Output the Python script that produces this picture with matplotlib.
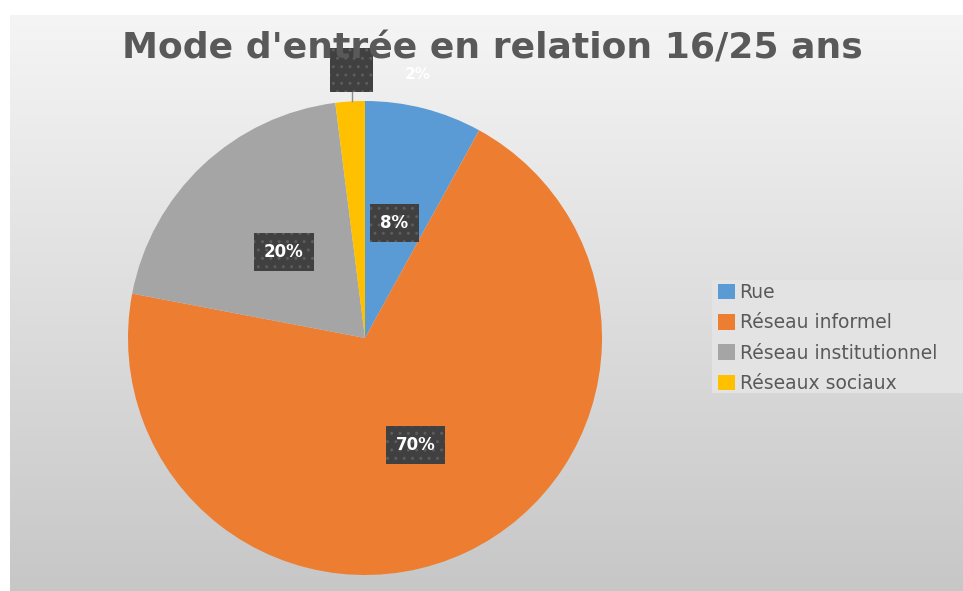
import numpy as np
import matplotlib.pyplot as plt
from matplotlib.patches import Rectangle, Patch

# data
labels = ['Rue', 'Réseau informel', 'Réseau institutionnel', 'Réseaux sociaux']
values = [8, 70, 20, 2]
colors = ['#5B9BD5', '#ED7D31', '#A5A5A5', '#FFC000']
title = "Mode d'entrée en relation 16/25 ans"

W, H = 963, 591
fig = plt.figure(figsize=(W / 100, H / 100), dpi=100)
fig.patch.set_facecolor('white')

# gradient background of the chart area
bg = fig.add_axes([10 / W, 0, (W - 10) / W, (H - 15) / H])
grad = np.linspace(0, 1, 256).reshape(-1, 1)
top, bot = np.array([0.96, 0.96, 0.96]), np.array([0.78, 0.78, 0.78])
img = top + (bot - top) * grad[:, :, None]
bg.imshow(img, aspect='auto', extent=[0, 1, 0, 1])
bg.set_xlim(0, 1)
bg.set_ylim(0, 1)
bg.axis('off')

fig.text(492 / W, 1 - 58 / H, title, ha='center', va='baseline',
         fontsize=26, fontweight='bold', color='#595959')

# pie
r_px = 237
cx, cy = 365, 338
ax = fig.add_axes([(cx - r_px) / W, (H - cy - r_px) / H, 2 * r_px / W, 2 * r_px / H])
ax.set_facecolor('none')
wedges, texts, autotexts = ax.pie(values, colors=colors, startangle=90, counterclock=False,
                                  autopct='%1.0f%%', pctdistance=0.5,
                                  wedgeprops=dict(linewidth=0))
ax.set_xlim(-1, 1)
ax.set_ylim(-1, 1)
ax.set_aspect('equal')

box = dict(boxstyle='square,pad=0.6', fc='#404040', ec='#5c5c5c', lw=0, hatch='..')
for i, t in enumerate(autotexts):
    t.set_color('white')
    t.set_fontweight('bold')
    t.set_fontsize(12)
    t.set_bbox(box)
    if i == 3:
        t.set_visible(False)

# small slice label pushed out above the pie
ax.plot([-0.055, -0.055], [1.0, 1.038], color='#8c8c8c', lw=1, clip_on=False)
ax.add_patch(Rectangle((-0.148, 1.038), 0.182, 0.186, fc='#404040', ec='#5c5c5c',
                       lw=0, hatch='..', clip_on=False))
ax.text(0.224, 1.11, '2%', ha='center', va='center', fontsize=11, fontweight='bold',
        color='white', clip_on=False)

# legend
fig.patches.append(Rectangle((712 / W, 1 - 393 / H), (W - 712) / W, 113 / H,
                             transform=fig.transFigure, fc='#e3e3e3', ec='none', zorder=0))
handles = [Patch(facecolor=c, edgecolor='none') for c in colors]
leg = fig.legend(handles, labels, loc='center left', bbox_to_anchor=(718 / W, 1 - 338 / H),
                 frameon=False, fontsize=13.5, handlelength=0.9, handleheight=0.9,
                 handletextpad=0.25, labelspacing=0.6, borderaxespad=0, borderpad=0)
for t in leg.get_texts():
    t.set_color('#595959')

plt.savefig('out.png', dpi=100)
